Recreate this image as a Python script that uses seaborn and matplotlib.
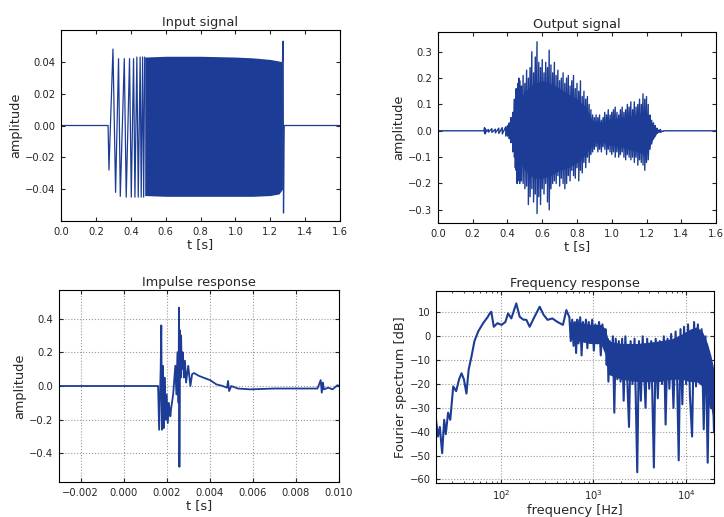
import numpy as np
import pandas as pd
import matplotlib
matplotlib.use("Agg")
import matplotlib.pyplot as plt
import seaborn as sns

# --- input signal (sweep): first half-waves, then dense block envelope, end spike
in_t = [0.0, 0.27, 0.275, 0.298, 0.313, 0.330, 0.340, 0.363, 0.374, 0.393, 0.403, 0.416,
        0.424, 0.435, 0.443, 0.454, 0.460, 0.468, 0.474, 0.48]
in_v = [0.0, 0.0, -0.028, 0.048, -0.042, 0.042, -0.0445, 0.042, -0.045, 0.042, -0.045, 0.042,
        -0.045, 0.043, -0.045, 0.043, -0.045, 0.043, -0.045, 0.043]
blk_t = [0.48, 0.6, 0.8, 1.0, 1.1, 1.2, 1.25, 1.27]
blk_hi = [0.043, 0.0435, 0.0435, 0.043, 0.0425, 0.0415, 0.0405, 0.040]
blk_lo = [-0.044, -0.0445, -0.0445, -0.0445, -0.0445, -0.044, -0.043, -0.040]
tail_t = [1.27, 1.274, 1.276, 1.28, 1.6]
tail_v = [0.040, 0.053, -0.055, 0.0, 0.0]

# --- output signal: spike tops / bottoms, plus dense core
out_t = [0.0, 0.265, 0.268, 0.272, 0.276, 0.29, 0.31, 0.33, 0.35, 0.37,
         0.39, 0.40, 0.405, 0.41, 0.415, 0.42, 0.425, 0.43, 0.435, 0.44,
         0.445, 0.45, 0.455, 0.46, 0.465, 0.47, 0.475, 0.48, 0.49, 0.50,
         0.51, 0.52, 0.53, 0.54, 0.55, 0.56, 0.57, 0.58, 0.59, 0.60,
         0.61, 0.62, 0.63, 0.64, 0.65, 0.66, 0.67, 0.68, 0.69, 0.70,
         0.71, 0.72, 0.73, 0.74, 0.75, 0.76, 0.77, 0.78, 0.79, 0.80,
         0.81, 0.82, 0.83, 0.84, 0.85, 0.86, 0.87, 0.88, 0.89, 0.90,
         0.91, 0.92, 0.93, 0.94, 0.95, 0.96, 0.97, 0.98, 0.99, 1.00,
         1.01, 1.02, 1.03, 1.04, 1.05, 1.06, 1.07, 1.08, 1.09, 1.10,
         1.11, 1.12, 1.13, 1.14, 1.15, 1.16, 1.17, 1.18, 1.19, 1.20,
         1.21, 1.22, 1.23, 1.24, 1.25, 1.26, 1.28, 1.30, 1.60]
out_hi = [0, 0, 0.012, 0.008, 0.004, 0.005, 0.008, 0.006, 0.01, 0.012,
          0.015, 0.02, 0.01, 0.03, 0.02, 0.05, 0.03, 0.07, 0.05, 0.12,
          0.09, 0.16, 0.12, 0.18, 0.2, 0.19, 0.15, 0.17, 0.21, 0.18,
          0.23, 0.2, 0.24, 0.3, 0.22, 0.28, 0.338, 0.26, 0.24, 0.27,
          0.22, 0.26, 0.24, 0.306, 0.25, 0.22, 0.26, 0.21, 0.23, 0.19,
          0.2, 0.22, 0.18, 0.2, 0.21, 0.17, 0.19, 0.21, 0.16, 0.18,
          0.15, 0.19, 0.13, 0.15, 0.12, 0.13, 0.1, 0.08, 0.06, 0.05,
          0.06, 0.05, 0.06, 0.04, 0.05, 0.07, 0.06, 0.08, 0.06, 0.07,
          0.08, 0.09, 0.07, 0.06, 0.08, 0.09, 0.07, 0.08, 0.1, 0.09,
          0.11, 0.08, 0.11, 0.09, 0.1, 0.12, 0.1, 0.14, 0.12, 0.13,
          0.1, 0.06, 0.04, 0.03, 0.02, 0.01, 0.005, 0, 0]
out_lo = [0, 0, -0.01, -0.012, -0.004, -0.005, -0.006, -0.008, -0.01, -0.012,
          -0.02, -0.02, -0.015, -0.03, -0.02, -0.045, -0.04, -0.08, -0.06, -0.1,
          -0.14, -0.15, -0.2, -0.19, -0.15, -0.2, -0.17, -0.19, -0.2, -0.22,
          -0.21, -0.28, -0.25, -0.22, -0.27, -0.24, -0.314, -0.25, -0.28, -0.22,
          -0.24, -0.2, -0.27, -0.3, -0.22, -0.2, -0.19, -0.2, -0.17, -0.21,
          -0.18, -0.2, -0.22, -0.2, -0.17, -0.19, -0.15, -0.17, -0.18, -0.14,
          -0.19, -0.15, -0.16, -0.12, -0.14, -0.1, -0.12, -0.09, -0.08, -0.07,
          -0.06, -0.08, -0.07, -0.08, -0.06, -0.07, -0.09, -0.07, -0.08, -0.09,
          -0.08, -0.1, -0.08, -0.1, -0.09, -0.08, -0.1, -0.11, -0.09, -0.1,
          -0.11, -0.1, -0.12, -0.1, -0.13, -0.11, -0.12, -0.13, -0.15, -0.12,
          -0.11, -0.07, -0.05, -0.03, -0.02, -0.01, -0.005, 0, 0]
core_t = [0.40, 0.43, 0.45, 0.47, 0.5, 0.55, 0.6, 0.65, 0.7, 0.75, 0.8, 0.85, 0.88, 0.9,
          0.95, 1.0, 1.05, 1.1, 1.15, 1.2, 1.23, 1.26, 1.3]
core_hi = [0.0, 0.03, 0.08, 0.12, 0.15, 0.18, 0.19, 0.18, 0.16, 0.14, 0.12, 0.09, 0.05, 0.035,
           0.035, 0.045, 0.05, 0.055, 0.06, 0.07, 0.03, 0.008, 0.0]
core_lo = [0.0, -0.03, -0.08, -0.12, -0.15, -0.18, -0.18, -0.17, -0.15, -0.14, -0.12, -0.09,
           -0.06, -0.045, -0.045, -0.055, -0.06, -0.07, -0.08, -0.09, -0.04, -0.008, 0.0]

# --- impulse response
imp_t = [-0.003, 0.0016, 0.00165, 0.00172, 0.00175, 0.00178, 0.00182, 0.00186, 0.0019,
         0.00195, 0.002, 0.00205, 0.0021, 0.00217, 0.0022, 0.0023, 0.0024, 0.00245, 0.0025,
         0.00255, 0.00257, 0.00259, 0.00262, 0.00265, 0.00267, 0.0027, 0.00275, 0.0028,
         0.00285, 0.0029, 0.003, 0.0031, 0.00318, 0.00326, 0.0035, 0.0038, 0.00403, 0.0043,
         0.0046, 0.0048, 0.00485, 0.0049, 0.005, 0.0053, 0.0059, 0.007, 0.00806, 0.009,
         0.00915, 0.0092, 0.00925, 0.0093, 0.0095, 0.0097, 0.00993, 0.01]
imp_v = [0.0, 0.0, -0.26, 0.1, 0.36, -0.26, 0.12, -0.25, 0.05, -0.2, -0.05, -0.22, -0.1,
         -0.18, -0.14, -0.05, 0.12, -0.05, 0.2, -0.1, 0.465, -0.48, 0.33, 0.05, 0.3, 0.1,
         0.2, 0.05, 0.15, 0.02, 0.12, 0.0, 0.07, 0.077, 0.06, 0.045, 0.034, 0.01, 0.0, -0.01,
         0.03, -0.03, 0.0, -0.015, -0.02, -0.015, -0.015, -0.015, 0.035, -0.04, 0.02, -0.02,
         -0.01, -0.02, 0.005, 0.0]

# --- frequency response
freq = [20, 21, 22, 23.3, 24.5, 25.5, 27, 28.5, 30.7, 33,
        35.5, 37.7, 40, 42.6, 45, 48.3, 52, 57, 64.5, 72,
        76, 79, 84, 92, 102, 112, 120, 130, 147, 160,
        175, 189, 205, 230, 263, 290, 320, 360, 410, 469,
        510, 550, 570, 590, 610, 630, 650, 670, 690, 720,
        745, 770, 800, 830, 860, 890, 930, 970, 1010, 1050,
        1100, 1150, 1200, 1250, 1300, 1350, 1390, 1420, 1450, 1500,
        1560, 1620, 1680, 1740, 1810, 1880, 1960, 2040, 2120, 2210,
        2300, 2420, 2520, 2640, 2780, 2970, 3100, 3250, 3400, 3650,
        3800, 4000, 4200, 4490, 4700, 4950, 5200, 5500, 5750, 6010,
        6300, 6600, 6900, 7300, 7700, 8000, 8320, 8700, 9100, 9500,
        10000, 10500, 11000, 11600, 12200, 12800, 13400, 14000, 14700, 15500,
        16200, 17100, 17800, 18500, 19200, 20000]
spec_db = [-35, -42, -38, -49, -35, -41, -32, -35, -21, -23,
           -18, -15.5, -18, -24, -14, -8.5, -2, 2, 5.5, 8,
           9.6, 10.3, 4, 5.5, 4.8, 6, 9.6, 7.5, 13.8, 8.2,
           7, 6.9, 4, 8, 12.4, 9, 6.9, 7.5, 6, 4.8,
           11, 8, -2, 7, -4, 6, -7, 7, -3, 8,
           -8, 6, -2, 7, -5, 6, -1, 7, -6, 5,
           -3, 6, -8, 5, -2, 3, -12, -1, -19, -2,
           -14, 0, -32, -1, -18, -2, -19, -1, -27, 0,
           -15, -38, -2, -20, -1, -57, -2, -27, 0, -30,
           -1, -22, -2, -55, -1, -26, -2, -20, 0, -37,
           -1, -22, 1, -30, 2, -18, -52, 3, -28.5, 4,
           -20, 5, -25, -42, 6, -21, 5, -18, 3, -39,
           0, -53, -10, -30, -15, -40]
band_f = [550, 700, 900, 1200, 1350, 1450, 2000, 3000, 5000, 7000, 9000, 11000, 13000,
          15000, 17000, 18500, 20000]
band_hi = [6, 6, 5, 5, 3, -2, -3, -3, -2, -1, 1, 3, 4, 2, -3, -8, -14]
band_lo = [-1, -2, -3, -3, -8, -16, -18, -19, -19, -18, -18, -19, -19, -21, -25, -30, -36]

blue = "#1d3c95"

sns.set_style("ticks")
plt.rcParams["font.family"] = ["DejaVu Sans"]
fig = plt.figure(figsize=(7.24, 5.17), dpi=100)
W, H = 724, 517


def make_ax(x0, y0, x1, y1):
    return fig.add_axes([x0 / W, 1 - y1 / H, (x1 - x0) / W, (y1 - y0) / H])


def style(ax, title, xlabel, ylabel, grid=False):
    ax.set_title(title, fontsize=9.3, pad=3)
    ax.set_xlabel(xlabel, fontsize=9.3, labelpad=1)
    ax.set_ylabel(ylabel, fontsize=9.3, labelpad=2)
    ax.tick_params(direction="in", top=True, right=True, labelsize=7.2, length=3, pad=4)
    ax.tick_params(which="minor", direction="in", top=True, right=True, length=1.6)
    for s in ax.spines.values():
        s.set_color("black")
        s.set_linewidth(0.8)
    if grid:
        ax.grid(True, which="major", linestyle=":", color="#9a9a9a", linewidth=0.8)
    else:
        ax.grid(False)


# Input signal
ax1 = make_ax(61, 30, 340, 221)
df_in = pd.DataFrame({"t": in_t, "v": in_v})
sns.lineplot(data=df_in, x="t", y="v", ax=ax1, color=blue, lw=0.9, sort=False, estimator=None)
ax1.fill_between(blk_t, blk_lo, blk_hi, color=blue, lw=0)
sns.lineplot(x=tail_t, y=tail_v, ax=ax1, color=blue, lw=0.9, sort=False, estimator=None)
ax1.set_xlim(0, 1.6)
ax1.set_ylim(-0.06, 0.06)
ax1.set_yticks([-0.04, -0.02, 0.0, 0.02, 0.04])
ax1.set_yticklabels(["\u22120.04", "\u22120.02", "0.00", "0.02", "0.04"])
style(ax1, "Input signal", "t [s]", "amplitude")

# Output signal
ax2 = make_ax(438, 32, 716, 223)
zz_t = np.repeat(out_t, 2)
zz_v = np.column_stack([out_hi, out_lo]).ravel()
ax2.fill_between(core_t, core_lo, core_hi, color=blue, lw=0)
sns.lineplot(x=zz_t, y=zz_v, ax=ax2, color=blue, lw=1.0, sort=False, estimator=None)
ax2.set_xlim(0, 1.6)
ax2.set_ylim(-0.35, 0.375)
ax2.set_yticks([-0.3, -0.2, -0.1, 0.0, 0.1, 0.2, 0.3])
ax2.set_yticklabels(["\u22120.3", "\u22120.2", "\u22120.1", "0.0", "0.1", "0.2", "0.3"])
style(ax2, "Output signal", "t [s]", "amplitude")

# Impulse response
ax3 = make_ax(59, 290, 339, 482)
sns.lineplot(x=imp_t, y=imp_v, ax=ax3, color=blue, lw=1.3, sort=False, estimator=None)
ax3.set_xlim(-0.003, 0.010)
ax3.set_ylim(-0.57, 0.57)
ax3.set_xticks(np.arange(-0.002, 0.0101, 0.002))
ax3.set_xticklabels(["\u22120.002", "0.000", "0.002", "0.004", "0.006", "0.008", "0.010"])
ax3.set_yticks([-0.4, -0.2, 0.0, 0.2, 0.4])
ax3.set_yticklabels(["\u22120.4", "\u22120.2", "0.0", "0.2", "0.4"])
style(ax3, "Impulse response", "t [s]", "amplitude", grid=True)

# Frequency response
ax4 = make_ax(436, 291, 714, 483)
ax4.set_xscale("log")
ax4.fill_between(band_f, band_lo, band_hi, color=blue, lw=0)
sns.lineplot(x=freq, y=spec_db, ax=ax4, color=blue, lw=1.5, sort=False, estimator=None)
ax4.set_xlim(20, 20000)
ax4.set_ylim(-61.5, 19)
ax4.set_xticks([100, 1000, 10000])
ax4.set_yticks(range(-60, 11, 10))
ax4.set_yticklabels(["\u221260", "\u221250", "\u221240", "\u221230", "\u221220", "\u221210", "0", "10"])
style(ax4, "Frequency response", "frequency [Hz]", "Fourier spectrum [dB]", grid=True)

fig.savefig("out.png", dpi=100)
